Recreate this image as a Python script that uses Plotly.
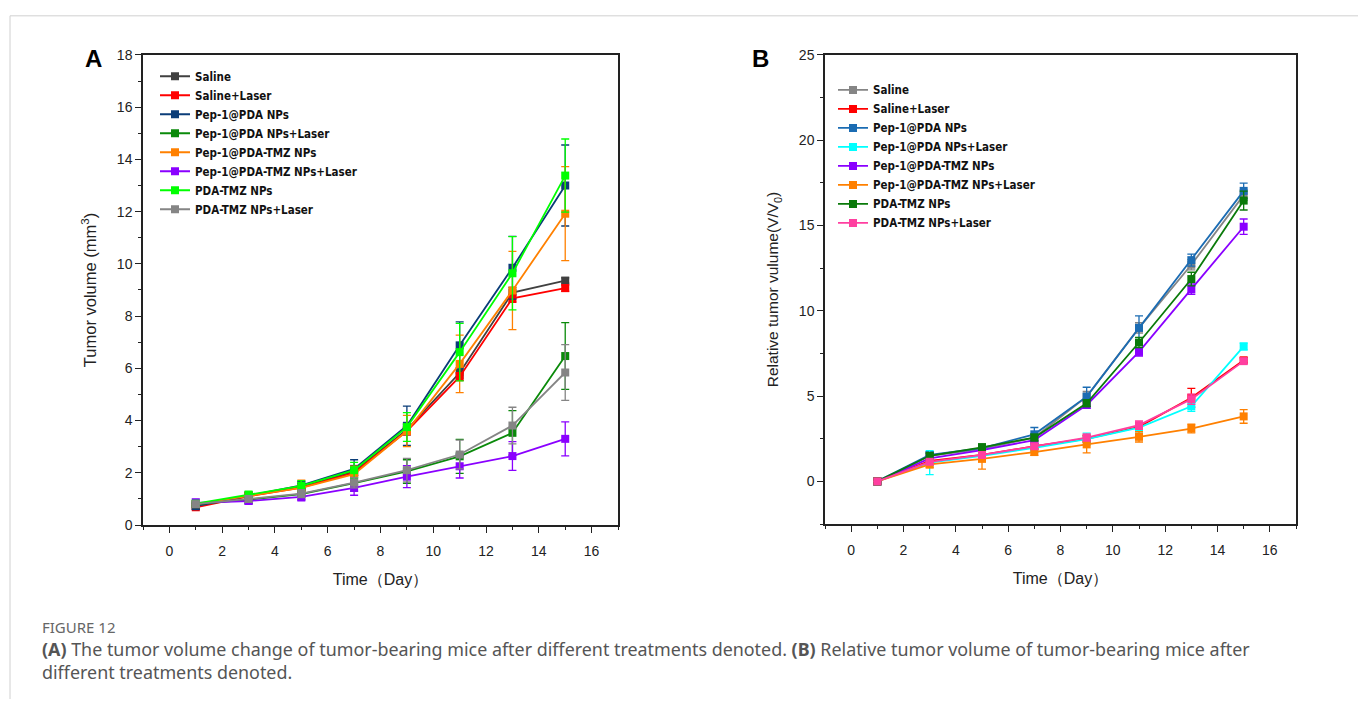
import plotly.graph_objects as go

days = [1, 3, 5, 7, 9, 11, 13, 15]

names_a = ["Saline", "Saline+Laser", "Pep-1@PDA NPs", "Pep-1@PDA NPs+Laser",
           "Pep-1@PDA-TMZ NPs", "Pep-1@PDA-TMZ NPs+Laser", "PDA-TMZ NPs", "PDA-TMZ NPs+Laser"]
colors_a = ["#404040", "#ff0000", "#0b3d78", "#0a8a0a", "#ff8000", "#8a00ff", "#00ff00", "#858585"]

a_saline = [0.75, 1.12, 1.45, 2.05, 3.65, 5.83, 8.9, 9.36]
a_saline_laser = [0.68, 1.10, 1.43, 2.0, 3.6, 5.68, 8.68, 9.07]
a_pep = [0.72, 1.13, 1.52, 2.15, 3.8, 6.88, 9.85, 13.0]
a_pep_laser = [0.8, 0.97, 1.18, 1.6, 2.05, 2.63, 3.53, 6.47]
a_tmz = [0.8, 1.1, 1.42, 1.95, 3.6, 6.17, 8.98, 11.92]
a_tmz_laser = [0.85, 0.92, 1.08, 1.42, 1.85, 2.25, 2.64, 3.3]
a_pdatmz = [0.82, 1.15, 1.5, 2.1, 3.75, 6.62, 9.64, 13.38]
a_pdatmz_laser = [0.8, 1.0, 1.2, 1.62, 2.1, 2.7, 3.81, 5.84]

e_saline = [0.1, 0.1, 0.12, 0.15, 0.2, 0.2, 0.2, 0.1]
e_saline_laser = [0.08, 0.1, 0.1, 0.12, 0.15, 0.15, 0.15, 0.12]
e_pep = [0.12, 0.12, 0.15, 0.35, 0.75, 0.9, 1.2, 1.55]
e_pep_laser = [0.12, 0.15, 0.2, 0.3, 0.45, 0.65, 0.85, 1.28]
e_tmz = [0.1, 0.12, 0.3, 0.3, 0.6, 1.1, 1.5, 1.8]
e_tmz_laser = [0.15, 0.12, 0.15, 0.28, 0.42, 0.45, 0.55, 0.65]
e_pdatmz = [0.1, 0.15, 0.2, 0.3, 0.55, 1.1, 1.4, 1.4]
e_pdatmz_laser = [0.1, 0.12, 0.15, 0.2, 0.45, 0.55, 0.7, 1.07]

names_b = ["Saline", "Saline+Laser", "Pep-1@PDA NPs", "Pep-1@PDA NPs+Laser",
           "Pep-1@PDA-TMZ NPs", "Pep-1@PDA-TMZ NPs+Laser", "PDA-TMZ NPs", "PDA-TMZ NPs+Laser"]
colors_b = ["#858585", "#ff0000", "#1b6cb3", "#00ffff", "#8a00ff", "#ff8000", "#0a7a0a", "#ff3fa0"]

b_saline = [0, 1.5, 1.9, 2.57, 4.97, 9.0, 12.7, 16.78]
b_saline_laser = [0, 1.2, 1.55, 2.06, 2.5, 3.2, 4.9, 7.1]
b_pep = [0, 1.55, 1.95, 2.76, 4.97, 9.0, 12.97, 17.03]
b_pep_laser = [0, 1.1, 1.5, 1.96, 2.48, 3.15, 4.4, 7.91]
b_tmz = [0, 1.35, 1.83, 2.42, 4.48, 7.59, 11.27, 14.93]
b_tmz_laser = [0, 1.0, 1.32, 1.72, 2.17, 2.61, 3.1, 3.81]
b_pdatmz = [0, 1.5, 2.0, 2.57, 4.58, 8.14, 11.86, 16.46]
b_pdatmz_laser = [0, 1.15, 1.55, 2.06, 2.57, 3.3, 4.82, 7.05]

be_saline = [0, 0.15, 0.15, 0.2, 0.3, 0.3, 0.3, 0.3]
be_saline_laser = [0, 0.15, 0.15, 0.15, 0.2, 0.25, 0.55, 0.15]
be_pep = [0, 0.2, 0.2, 0.4, 0.55, 0.7, 0.35, 0.45]
be_pep_laser = [0, 0.7, 0.3, 0.25, 0.35, 0.25, 0.3, 0.2]
be_tmz = [0, 0.15, 0.15, 0.2, 0.2, 0.25, 0.3, 0.45]
be_tmz_laser = [0, 0.2, 0.6, 0.2, 0.5, 0.3, 0.25, 0.4]
be_pdatmz = [0, 0.15, 0.2, 0.2, 0.2, 0.3, 0.4, 0.55]
be_pdatmz_laser = [0, 0.15, 0.15, 0.15, 0.2, 0.25, 0.3, 0.15]

series_a = [a_saline, a_saline_laser, a_pep, a_pep_laser, a_tmz, a_tmz_laser, a_pdatmz, a_pdatmz_laser]
errors_a = [e_saline, e_saline_laser, e_pep, e_pep_laser, e_tmz, e_tmz_laser, e_pdatmz, e_pdatmz_laser]
series_b = [b_saline, b_saline_laser, b_pep, b_pep_laser, b_tmz, b_tmz_laser, b_pdatmz, b_pdatmz_laser]
errors_b = [be_saline, be_saline_laser, be_pep, be_pep_laser, be_tmz, be_tmz_laser, be_pdatmz, be_pdatmz_laser]

W, H = 1358, 707
fig = go.Figure()

for n, c, y, e in zip(names_a, colors_a, series_a, errors_a):
    fig.add_trace(go.Scatter(
        x=days, y=y, name=n, mode="lines+markers", xaxis="x", yaxis="y",
        line=dict(color=c, width=1.8), marker=dict(symbol="square", size=8, color=c),
        error_y=dict(type="data", array=e, visible=True, color=c, thickness=1.3, width=4),
        legend="legend"))

for n, c, y, e in zip(names_b, colors_b, series_b, errors_b):
    fig.add_trace(go.Scatter(
        x=days, y=y, name=n, mode="lines+markers", xaxis="x2", yaxis="y2",
        line=dict(color=c, width=1.8), marker=dict(symbol="square", size=8, color=c),
        error_y=dict(type="data", array=e, visible=True, color=c, thickness=1.3, width=4),
        legend="legend2"))

tickfont = dict(family="Liberation Sans, Arial, sans-serif", size=14, color="#222")
common_axis = dict(showline=True, linecolor="#222", linewidth=1.5, mirror=True,
                   ticks="outside", ticklen=6, tickwidth=1.2, tickcolor="#222",
                   showgrid=False, zeroline=False, tickfont=tickfont)
legfont = dict(family="Liberation Sans Narrow, DejaVu Sans Condensed, Arial Narrow, Liberation Sans, sans-serif",
               size=11.5, color="#111", weight="bold")

fig.update_layout(
    width=W, height=H, margin=dict(l=0, r=0, t=0, b=0),
    paper_bgcolor="white", plot_bgcolor="white",
    font=dict(family="Liberation Sans, Arial, sans-serif"),
    xaxis=dict(domain=[143 / W, 618 / W], range=[-1, 17], dtick=2, anchor="y",
               ticklabelstandoff=6,
               minor=dict(dtick=1, ticks="outside", ticklen=3, tickcolor="#222"),
               title=dict(text="Time（Day）", font=dict(family="Liberation Sans, Arial, sans-serif", size=16, color="#222"),
                          standoff=16), **common_axis),
    yaxis=dict(domain=[1 - 529 / H, 1 - 48 / H], range=[0, 18], dtick=2, anchor="x",
               minor=dict(dtick=1, ticks="outside", ticklen=3, tickcolor="#222"),
               title=dict(text="Tumor volume (mm<sup>3</sup>)",
                          font=dict(family="Liberation Sans, Arial, sans-serif", size=16.5, color="#222"),
                          standoff=16),
               **common_axis),
    xaxis2=dict(domain=[825 / W, 1296 / W], range=[-1, 17], dtick=2, anchor="y2",
                ticklabelstandoff=6,
                minor=dict(dtick=1, ticks="outside", ticklen=3, tickcolor="#222"),
                title=dict(text="Time（Day）", font=dict(family="Liberation Sans, Arial, sans-serif", size=16, color="#222"),
                           standoff=16), **common_axis),
    yaxis2=dict(domain=[1 - 528 / H, 1 - 48 / H], range=[-2.5, 25], dtick=5, anchor="x2",
                minor=dict(dtick=2.5, ticks="outside", ticklen=3, tickcolor="#222"),
                title=dict(text="Relative tumor vulume(V/V<sub>0</sub>)",
                           font=dict(family="Liberation Sans, Arial, sans-serif", size=15.5, color="#222"),
                           standoff=16),
                **common_axis),
    legend=dict(x=155 / W, y=1 - 55 / H, xanchor="left", yanchor="top",
                bgcolor="rgba(0,0,0,0)", itemwidth=30, font=legfont),
    legend2=dict(x=833 / W, y=1 - 69 / H, xanchor="left", yanchor="top",
                 bgcolor="rgba(0,0,0,0)", itemwidth=30, font=legfont),
    showlegend=True,
)

capfont = dict(size=17.9, color="#555", family="Noto Sans, sans-serif")
annotations = [
    dict(text="<b>A</b>", x=93 / W, y=1 - 52 / H, xref="paper", yref="paper",
         showarrow=False, font=dict(size=24, color="#000", family="Liberation Sans, Arial"),
         xanchor="center", yanchor="middle"),
    dict(text="<b>B</b>", x=760 / W, y=1 - 52 / H, xref="paper", yref="paper",
         showarrow=False, font=dict(size=24, color="#000", family="Liberation Sans, Arial"),
         xanchor="center", yanchor="middle"),
    dict(text="FIGURE 12", x=40 / W, y=1 - 633 / H, xref="paper", yref="paper",
         showarrow=False, font=dict(size=15, color="#666", family="Noto Sans, sans-serif"),
         xanchor="left", yanchor="middle"),
    dict(text="<b>(A)</b> The tumor volume change of tumor-bearing mice after different treatments denoted. "
              "<b>(B)</b> Relative tumor volume of tumor-bearing mice after",
         x=40 / W, y=1 - 656 / H, xref="paper", yref="paper", align="left",
         showarrow=False, font=capfont, xanchor="left", yanchor="middle"),
    dict(text="different treatments denoted.",
         x=40 / W, y=1 - 679 / H, xref="paper", yref="paper", align="left",
         showarrow=False, font=capfont, xanchor="left", yanchor="middle"),
]
fig.update_layout(annotations=annotations)

fig.update_layout(shapes=[
    dict(type="line", xref="paper", yref="paper", x0=10 / W, x1=1, y0=1 - 8 / H, y1=1 - 8 / H,
         line=dict(color="#d0d0d0", width=1)),
    dict(type="line", xref="paper", yref="paper", x0=10 / W, x1=10 / W, y0=0, y1=1 - 8 / H,
         line=dict(color="#d0d0d0", width=1)),
])

fig.write_html("out.html")
